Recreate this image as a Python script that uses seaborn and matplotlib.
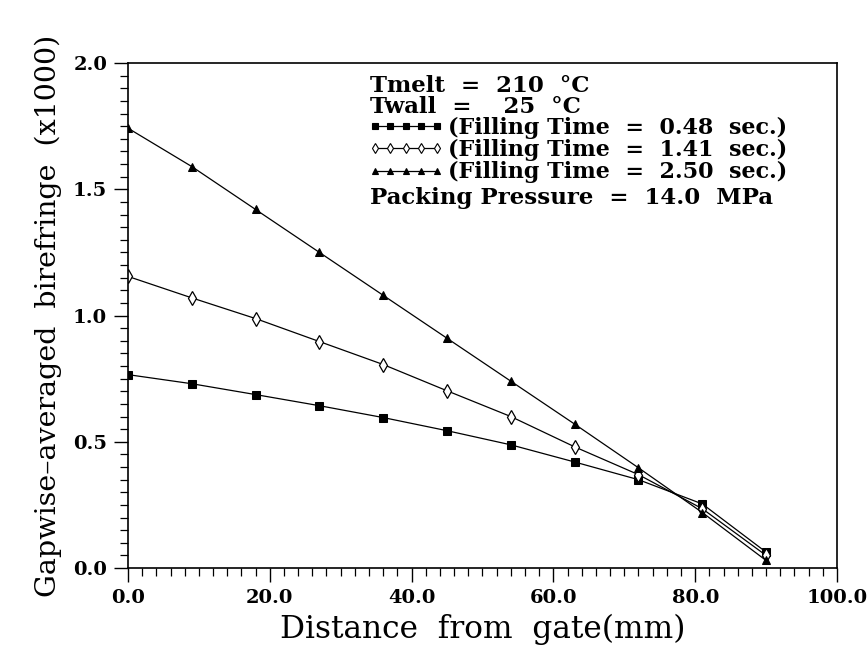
import numpy as np
import pandas as pd
import matplotlib
matplotlib.use("Agg")
import matplotlib.pyplot as plt
import seaborn as sns
from matplotlib.ticker import MultipleLocator, FormatStrFormatter

# ---- data ----
distance = [0, 9, 18, 27, 36, 45, 54, 63, 72, 81, 90]
biref_048 = [0.766, 0.730, 0.687, 0.643, 0.596, 0.544, 0.488, 0.420, 0.350, 0.254, 0.063]
biref_141 = [1.155, 1.070, 0.988, 0.897, 0.806, 0.702, 0.600, 0.480, 0.370, 0.235, 0.050]
biref_250 = [1.742, 1.590, 1.420, 1.250, 1.080, 0.910, 0.740, 0.570, 0.397, 0.220, 0.030]
series_labels = ["(Filling Time  =  0.48  sec.)",
                 "(Filling Time  =  1.41  sec.)",
                 "(Filling Time  =  2.50  sec.)"]
x_ticks = [0, 20, 40, 60, 80, 100]
y_ticks = [0.0, 0.5, 1.0, 1.5, 2.0]

df = pd.concat([
    pd.DataFrame({"x": distance, "y": vals, "series": lab})
    for vals, lab in zip([biref_048, biref_141, biref_250], series_labels)
])

sns.set_theme(style="ticks")
plt.rcParams["font.family"] = ["DejaVu Serif"]
plt.rcParams["text.color"] = "black"
plt.rcParams["axes.labelcolor"] = "black"

fig = plt.figure(figsize=(8.67, 6.47), dpi=100)
ax = fig.add_axes([0.1476, 0.122, 0.8178, 0.7806])

markers = {series_labels[0]: "s", series_labels[1]: "d", series_labels[2]: "^"}
sns.lineplot(data=df, x="x", y="y", hue="series", style="series",
             palette=["black"] * 3, markers=markers, dashes=False,
             linewidth=0.9, markersize=6, ax=ax, legend=False)
for line in ax.get_lines():
    if line.get_marker() == "d":
        line.set_markerfacecolor("white")
        line.set_markersize(7)
        line.set_markeredgewidth(0.9)
    line.set_markeredgecolor("black")

ax.set_xlim(0, 100)
ax.set_ylim(0, 2.0)
ax.set_xticks(x_ticks)
ax.set_yticks(y_ticks)
ax.xaxis.set_major_formatter(FormatStrFormatter("%.1f"))
ax.yaxis.set_major_formatter(FormatStrFormatter("%.1f"))
ax.xaxis.set_minor_locator(MultipleLocator(2))
ax.yaxis.set_minor_locator(MultipleLocator(0.05))
ax.tick_params(which="major", direction="out", length=10, width=1.0,
               labelsize=14, color="black", labelcolor="black", pad=5)
ax.tick_params(which="minor", direction="out", length=6, width=0.9, color="black")
for lbl in ax.get_xticklabels() + ax.get_yticklabels():
    lbl.set_fontweight("semibold")
for s in ax.spines.values():
    s.set_visible(True)
    s.set_color("black")
    s.set_linewidth(1.2)

ax.set_xlabel("Distance  from  gate(mm)", fontsize=22.5, labelpad=5, color="black")
ax.set_ylabel("Gapwise\u2013averaged  birefringe  (x1000)", fontsize=20.5,
              labelpad=8, color="black")

tx = 370 / 867
fs = 16.5
fig.text(tx, 1 - 86 / 647, "Tmelt  =  210  \u00b0C", fontsize=fs, va="center", ha="left", fontweight="semibold")
fig.text(tx, 1 - 107 / 647, "Twall  =    25  \u00b0C", fontsize=fs, va="center", ha="left", fontweight="semibold")
fig.text(tx, 1 - 198 / 647, "Packing Pressure  =  14.0  MPa", fontsize=fs, va="center", ha="left", fontweight="semibold")

handles = []
for lab in series_labels:
    m = markers[lab]
    h, = ax.plot([], [], color="black", marker=m, linewidth=0.9,
                 markersize=4.5 if m != "d" else 5.5,
                 markerfacecolor="white" if m == "d" else "black",
                 markeredgecolor="black", markeredgewidth=0.8)
    handles.append(h)
leg = ax.legend(handles, series_labels, loc="upper left",
                bbox_to_anchor=(368 / 867, 1 - 117 / 647),
                bbox_transform=fig.transFigure, frameon=False,
                prop={"size": 16, "weight": "semibold"},
                numpoints=5, handlelength=3.4, handletextpad=0.2,
                labelspacing=0.0, borderpad=0, borderaxespad=0)
for t in leg.get_texts():
    t.set_color("black")

fig.savefig("out.png", dpi=100)
